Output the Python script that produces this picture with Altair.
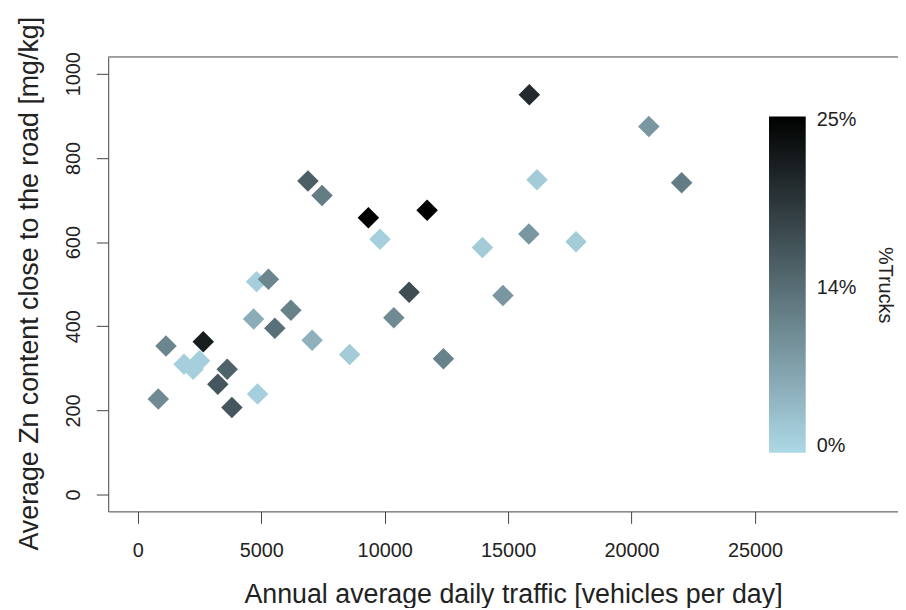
import altair as alt
import pandas as pd

# Data
traffic = [4810, 5290, 4690, 6200, 5550, 7060, 1140, 2650, 1870, 2500, 2240,
           3620, 3240, 830, 4850, 3810, 6890, 7460, 9340, 11720, 9810, 10990,
           10370, 8580, 12380, 15860, 20700, 16170, 22030, 15840, 17750, 13960, 14790]
zinc = [506, 512, 417, 438, 395, 367, 353, 363, 310, 318, 298,
        298, 262, 227, 239, 207, 745, 711, 658, 676, 607, 481,
        420, 333, 323, 950, 875, 748, 741, 619, 601, 587, 473]
trucks = [1, 9.5, 5, 10, 12, 4.5, 9.5, 21.5, 1, 1, 1,
          13.5, 15, 9, 1, 15, 14, 10.5, 25, 25, 1, 16,
          9, 1.5, 10, 20, 7.5, 1.5, 10.5, 7.5, 1.5, 1.5, 7.5]

x_ticks = [0, 5000, 10000, 15000, 20000, 25000]
y_ticks = [0, 200, 400, 600, 800, 1000]
# legend label positions (in % trucks) and their texts
legend_values = [0.5, 12.25, 24.7]
legend_labels = ["0%", "14%", "25%"]

df = pd.DataFrame({"traffic": traffic, "zinc": zinc, "trucks": trucks})

FONT = "Liberation Sans"
AXIS_COL = "#444444"
TEXT_COL = "#222222"
W, H = 796, 458

label_expr = " : ".join(
    f"datum.value == {v} ? '{l}'" for v, l in zip(legend_values, legend_labels)
) + " : datum.label"

points = alt.Chart(df).mark_point(
    shape="diamond", filled=True, size=470, opacity=1, strokeWidth=0
).encode(
    x=alt.X(
        "traffic:Q",
        scale=alt.Scale(domain=[-1200, 30794], nice=False, zero=False),
        axis=alt.Axis(
            values=x_ticks, format="d", grid=False,
            tickSize=12, tickColor=AXIS_COL, domainColor=AXIS_COL,
            labelPadding=33, labelBaseline="alphabetic", labelFontSize=20,
            labelColor=TEXT_COL, labelFont=FONT, labelFlush=False, labelOverlap=False,
            title="Annual average daily traffic [vehicles per day]",
            titleFont=FONT, titleFontSize=27, titleFontWeight="normal",
            titleColor=TEXT_COL, titleX=408, titleY=92, titleAlign="center",
            titleBaseline="alphabetic",
        ),
    ),
    y=alt.Y(
        "zinc:Q",
        scale=alt.Scale(domain=[-40, 1040], nice=False, zero=False),
        axis=alt.Axis(
            values=y_ticks, format="d", grid=False,
            tickSize=12, tickColor=AXIS_COL, domainColor=AXIS_COL,
            labelAngle=270, labelAlign="center", labelBaseline="alphabetic",
            labelPadding=17, labelFontSize=20, labelColor=TEXT_COL, labelFont=FONT,
            labelFlush=False, labelOverlap=False,
            title="Average Zn content close to the road [mg/kg]",
            titleFont=FONT, titleFontSize=27, titleFontWeight="normal",
            titleColor=TEXT_COL, titleAngle=270, titleX=-71, titleY=228,
            titleAlign="center", titleBaseline="alphabetic",
        ),
    ),
    color=alt.Color(
        "trucks:Q",
        scale=alt.Scale(domain=[0, 25], range=["#ADD8E6", "#000000"], interpolate="rgb"),
        legend=alt.Legend(
            orient="none", legendX=666, legendY=60, direction="vertical",
            gradientLength=339, gradientThickness=37, gradientStrokeWidth=0,
            values=legend_values, labelExpr=label_expr, labelBaseline="middle",
            labelFont=FONT, labelFontSize=20, labelColor=TEXT_COL, labelOffset=11,
            title="%Trucks", titleOrient="right", titleAnchor="middle",
            titleFont=FONT, titleFontSize=20, titleFontWeight="normal",
            titleColor=TEXT_COL, titlePadding=19, padding=0,
        ),
    ),
)

frame_top = alt.Chart(alt.Data(values=[{}])).mark_rule(
    color=AXIS_COL, strokeWidth=1
).encode(x=alt.value(0), x2=alt.value(W), y=alt.value(0))

chart = alt.layer(points, frame_top).properties(
    width=W, height=H,
    autosize=alt.AutoSizeParams(type="none"),
    padding={"left": 101, "top": 47, "right": 0, "bottom": 95},
    background="white",
).configure_view(stroke=None)

chart.save("out.html", embed_options={"renderer": "svg", "actions": False})
